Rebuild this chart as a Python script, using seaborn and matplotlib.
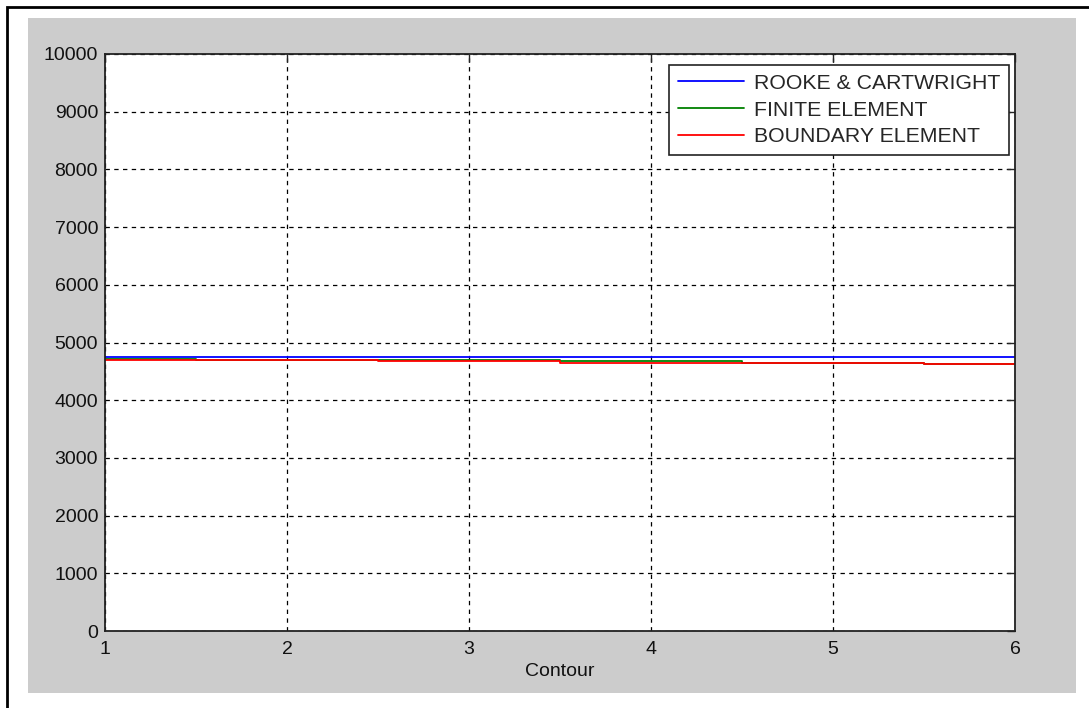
import numpy as np
import pandas as pd
import matplotlib
matplotlib.use("Agg")
import matplotlib.pyplot as plt
import seaborn as sns
from matplotlib.patches import Rectangle

# data
contour = [1, 2, 3, 4, 5, 6]
rooke = [4757, 4757, 4757, 4757, 4757, 4757]
finite = [4716, 4693, 4700, 4682, 4647, 4630]
boundary = [4693, 4693, 4676, 4647, 4647, 4630]

df = pd.DataFrame({
    "Contour": contour * 3,
    "value": rooke + finite + boundary,
    "method": (["ROOKE & CARTWRIGHT"] * 6 + ["FINITE ELEMENT"] * 6
               + ["BOUNDARY ELEMENT"] * 6),
})

sns.set_style("white")
plt.rcParams['font.family'] = ['Liberation Sans', 'DejaVu Sans']

fig = plt.figure(figsize=(10.89, 7.08), dpi=100)
fig.patch.set_facecolor("white")

# outer frame and grey panel like the MATLAB export
fig.patches.append(Rectangle((7 / 1089, -0.1), 1.2, 1 - 7 / 708 + 0.1,
                             transform=fig.transFigure, fill=False,
                             edgecolor="black", lw=2, zorder=-5))
fig.patches.append(Rectangle((28 / 1089, 1 - 693 / 708), 1048 / 1089, 675 / 708,
                             transform=fig.transFigure, facecolor="#cccccc",
                             edgecolor="none", zorder=-5))

ax = fig.add_axes([105 / 1089, 1 - 631 / 708, 910 / 1089, 577 / 708])
ax.set_zorder(2)
ax.set_facecolor("white")

palette = {"ROOKE & CARTWRIGHT": "#0000ff",
           "FINITE ELEMENT": "#008000",
           "BOUNDARY ELEMENT": "#ff0000"}
sns.lineplot(data=df, x="Contour", y="value", hue="method", palette=palette,
             drawstyle="steps-mid", linewidth=1.3, ax=ax, estimator=None)

ax.set_xlim(1, 6)
ax.set_ylim(0, 10000)
ax.set_xticks(contour)
ax.set_yticks(np.arange(0, 10001, 1000))
ax.set_xlabel("Contour", fontsize=14, color="#111111")
ax.set_ylabel("")
ax.xaxis.labelpad = 4
ax.grid(True, linestyle=(0, (3.5, 3.5)), color="black", linewidth=0.9)
ax.tick_params(direction="in", top=True, right=True, length=6, width=1,
               labelsize=14, labelcolor="#111111", pad=5)
ax.tick_params(axis="x", pad=7)
for s in ax.spines.values():
    s.set_color("#222222")
    s.set_linewidth(1.3)

leg = ax.legend(loc="upper right", bbox_to_anchor=(0.9935, 0.981), fontsize=15.3,
                frameon=True, fancybox=False, handlelength=3.1,
                borderpad=0.42, labelspacing=0.36, handletextpad=0.45,
                borderaxespad=0)
leg.get_frame().set_edgecolor("#222222")
leg.get_frame().set_linewidth(1.2)
leg.get_frame().set_alpha(1)

fig.savefig("out.png", dpi=100)
